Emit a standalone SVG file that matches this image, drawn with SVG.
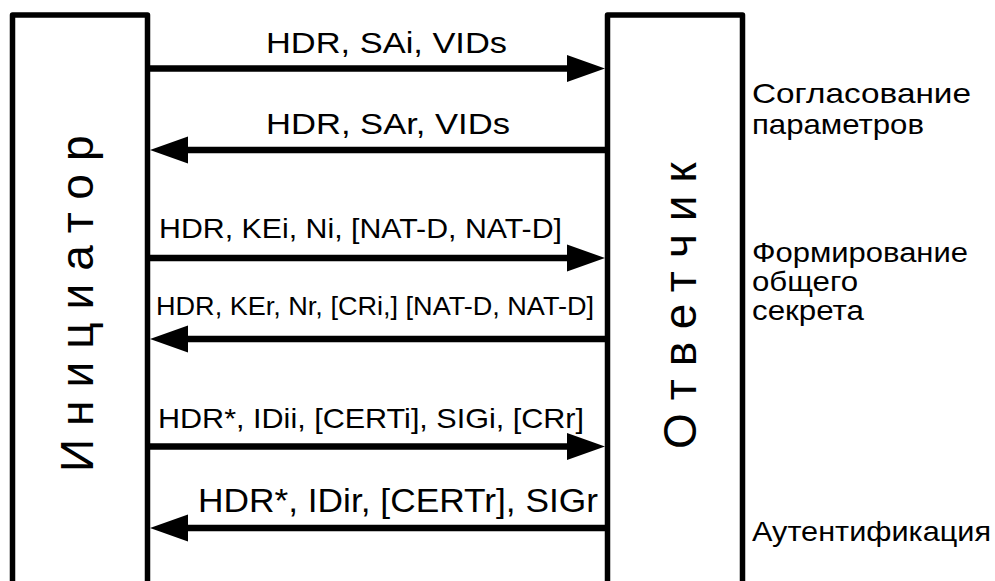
<svg xmlns="http://www.w3.org/2000/svg" width="995" height="581" viewBox="0 0 995 581">
<style>
.box{fill:#fff;stroke:#000;stroke-width:5.5;stroke-linejoin:round}
.ln{stroke:#000;stroke-width:6.5;fill:none}
.hd{fill:#000}
.t{font-family:"Liberation Sans",Arial,sans-serif;fill:#000}
.v{font-family:"Liberation Sans",Arial,sans-serif;font-size:46px;letter-spacing:13px;fill:#000}
</style>
<rect width="995" height="581" fill="#fff"/>
<g id="initiator">
<rect class="box" x="12.5" y="15" width="135" height="569"/>
<text class="v" transform="translate(93,472) rotate(-90)">Инициатор</text>
</g>
<g id="responder">
<rect class="box" x="607.5" y="15" width="135" height="569"/>
<text class="v" transform="translate(696,449) rotate(-90)">Ответчик</text>
</g>
<g id="connectors">
<line class="ln" x1="148" y1="68.5" x2="570" y2="68.5"/>
<polygon class="hd" points="567,55 605,68.5 567,82"/>
<line class="ln" x1="185" y1="150" x2="607" y2="150"/>
<polygon class="hd" points="188,136.5 150,150 188,163.5"/>
<line class="ln" x1="148" y1="258" x2="570" y2="258"/>
<polygon class="hd" points="567,244.5 605,258 567,271.5"/>
<line class="ln" x1="185" y1="339" x2="607" y2="339"/>
<polygon class="hd" points="188,325.5 150,339 188,352.5"/>
<line class="ln" x1="148" y1="446.5" x2="570" y2="446.5"/>
<polygon class="hd" points="567,433 605,446.5 567,460"/>
<line class="ln" x1="185" y1="528" x2="607" y2="528"/>
<polygon class="hd" points="188,514.5 150,528 188,541.5"/>
</g>
<g id="labels">
<text class="t" x="266" y="53" font-size="29" textLength="241" lengthAdjust="spacingAndGlyphs">HDR, SAi, VIDs</text>
<text class="t" x="266" y="134" font-size="29" textLength="244" lengthAdjust="spacingAndGlyphs">HDR, SAr, VIDs</text>
<text class="t" x="159" y="238" font-size="28" textLength="403" lengthAdjust="spacingAndGlyphs">HDR, KEi, Ni, [NAT-D, NAT-D]</text>
<text class="t" x="156" y="315" font-size="25.5" textLength="438" lengthAdjust="spacingAndGlyphs">HDR, KEr, Nr, [CRi,] [NAT-D, NAT-D]</text>
<text class="t" x="158" y="428" font-size="28" textLength="426" lengthAdjust="spacingAndGlyphs">HDR*, IDii, [CERTi], SIGi, [CRr]</text>
<text class="t" x="198" y="512" font-size="32.5" textLength="400" lengthAdjust="spacingAndGlyphs">HDR*, IDir, [CERTr], SIGr</text>
</g>
<g id="phases">
<text class="t" x="752" y="103" font-size="28" textLength="219" lengthAdjust="spacingAndGlyphs">Согласование</text>
<text class="t" x="752" y="134" font-size="28" textLength="172" lengthAdjust="spacingAndGlyphs">параметров</text>
<text class="t" x="752" y="262" font-size="27" textLength="216" lengthAdjust="spacingAndGlyphs">Формирование</text>
<text class="t" x="752" y="291" font-size="27" textLength="106" lengthAdjust="spacingAndGlyphs">общего</text>
<text class="t" x="752" y="320" font-size="27" textLength="112" lengthAdjust="spacingAndGlyphs">секрета</text>
<text class="t" x="752" y="541" font-size="28" textLength="239" lengthAdjust="spacingAndGlyphs">Аутентификация</text>
</g>
</svg>
